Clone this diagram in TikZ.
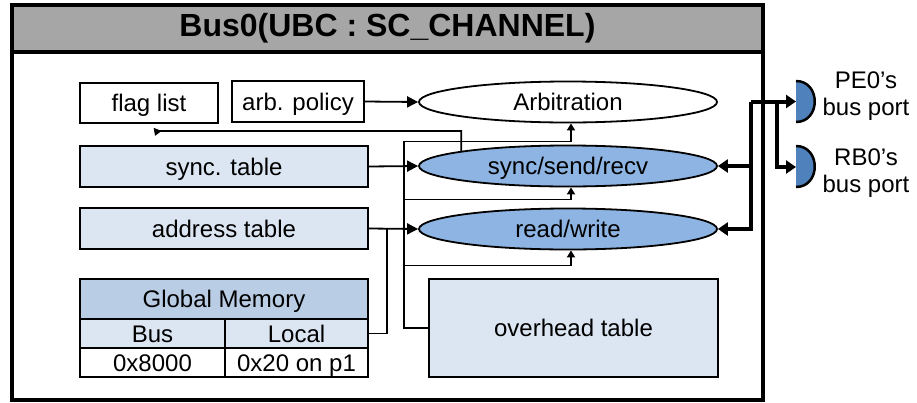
\documentclass[tikz,border=0pt]{standalone}
\usepackage{fontspec}
\setmainfont{Liberation Sans}
\usetikzlibrary{shapes.geometric,arrows.meta}
\definecolor{titlegray}{HTML}{A6A6A6}
\definecolor{ellblue}{HTML}{8DB4E2}
\definecolor{tablight}{HTML}{DCE6F2}
\definecolor{tabhead}{HTML}{B9CDE5}
\definecolor{portblue}{HTML}{4F81BD}
\tikzset{
  box/.style={draw, line width=1.8pt, inner sep=0pt, text height=17pt, text depth=0pt,
    font=\fontsize{24}{27}\selectfont},
  tbox/.style={box, fill=tablight},
  oval/.style={box, ellipse, minimum width=298, minimum height=41},
  conn/.style={line width=1.8pt, -{Triangle[length=11pt,width=11pt]}},
  upconn/.style={line width=1.8pt, -{Triangle[length=7pt,width=8pt]}},
  bus/.style={line width=4pt, -{Triangle[length=10pt,width=13pt]}},
}

\begin{document}
\begin{tikzpicture}[x=1pt,y=-1pt]
\useasboundingbox (0,0) rectangle (917,402);
% outer frame and title
\draw [line width=4pt] (12,5) rectangle (763,400);
\node (title) [draw, line width=4pt, fill=titlegray, minimum width=751, minimum height=47, inner sep=0pt,
  font=\bfseries\fontsize{32}{36}\selectfont] at (387.5,28.5) {Bus0(UBC : SC\_CHANNEL)};

% tables and lists
\node (flag) [box, minimum width=138, minimum height=40] at (149,103) {flag list};
\node (policy) [box, minimum width=132, minimum height=41] at (298,101.5) {arb. policy};
\node (synctab) [tbox, minimum width=288, minimum height=41] at (224,166.5) {sync. table};
\node (addrtab) [tbox, minimum width=288, minimum height=41] at (224,228.5) {address table};
\node (overhead) [tbox, minimum width=289, minimum height=98] at (573.5,328) {overhead table};

% global memory
\node (gmhead) [box, fill=tabhead, minimum width=288, minimum height=40] at (224,299) {Global Memory};
\node (gmbus) [tbox, minimum width=145, minimum height=29] at (152.5,333.5) {Bus};
\node (gmlocal) [tbox, minimum width=143, minimum height=29] at (296.5,333.5) {Local};
\node (gmbusval) [box, fill=white, minimum width=145, minimum height=29] at (152.5,362.5) {0x8000};
\node (gmlocval) [box, fill=white, minimum width=143, minimum height=29] at (296.5,362.5) {0x20 on p1};

% functions
\node (arb) [oval, fill=white] at (568,102) {Arbitration};
\node (sync) [oval, fill=ellblue] at (568,166) {sync/send/recv};
\node (rw) [oval, fill=ellblue] at (568,229) {read/write};

% connectors
\draw [conn] (policy.east) -- (arb.west);
\draw [conn] (synctab.east) -- (sync.west);
\draw [conn] (addrtab.east) -- (rw.west);
\draw [line width=1.8pt] (gmlocal.east) -- ++(18,0) |- (addrtab.east);
\coordinate (ohx) at ([xshift=-24pt]overhead.west);
\draw [upconn] (overhead.west) -- (ohx) |- ([xshift=3pt,yshift=-18pt]arb.south) -- ([xshift=3pt]arb.south);
\draw [upconn] (ohx) |- ([xshift=3pt,yshift=-12pt]sync.south) -- ([xshift=3pt]sync.south);
\draw [upconn] (ohx) |- ([xshift=3pt,yshift=-15pt]rw.south) -- ([xshift=3pt]rw.south);
\draw [upconn] (sync.172) |- ([xshift=8pt,yshift=-7pt]flag.south) -- ([xshift=6pt,yshift=-12pt]flag.south);

% bus ports
\fill [portblue] (796,81) .. controls (821,81) and (821,122) .. (796,122) -- cycle;
\draw [line width=2.5pt] (796,81) .. controls (821,81) and (821,122) .. (796,122);
\fill [portblue] (796,146) .. controls (821,146) and (821,187) .. (796,187) -- cycle;
\draw [line width=2.5pt] (796,146) .. controls (821,146) and (821,187) .. (796,187);
\coordinate (pe0) at (796,101.5);
\coordinate (rb0) at (796,167);
\coordinate (busn) at (751,101.5);
\coordinate (busr) at (777,101.5);
\node (pe0lbl) [align=center, font=\fontsize{24}{27}\selectfont] at (866,96) {PE0’s\\bus port};
\node (rb0lbl) [align=center, font=\fontsize{24}{27}\selectfont] at (866,173) {RB0’s\\bus port};

\draw [bus] (busn) -- (pe0);
\draw [bus] (busr) |- (rb0);
\draw [bus] (busn) |- (sync.east);
\draw [bus] (busn) |- (rw.east);
\end{tikzpicture}
\end{document}
